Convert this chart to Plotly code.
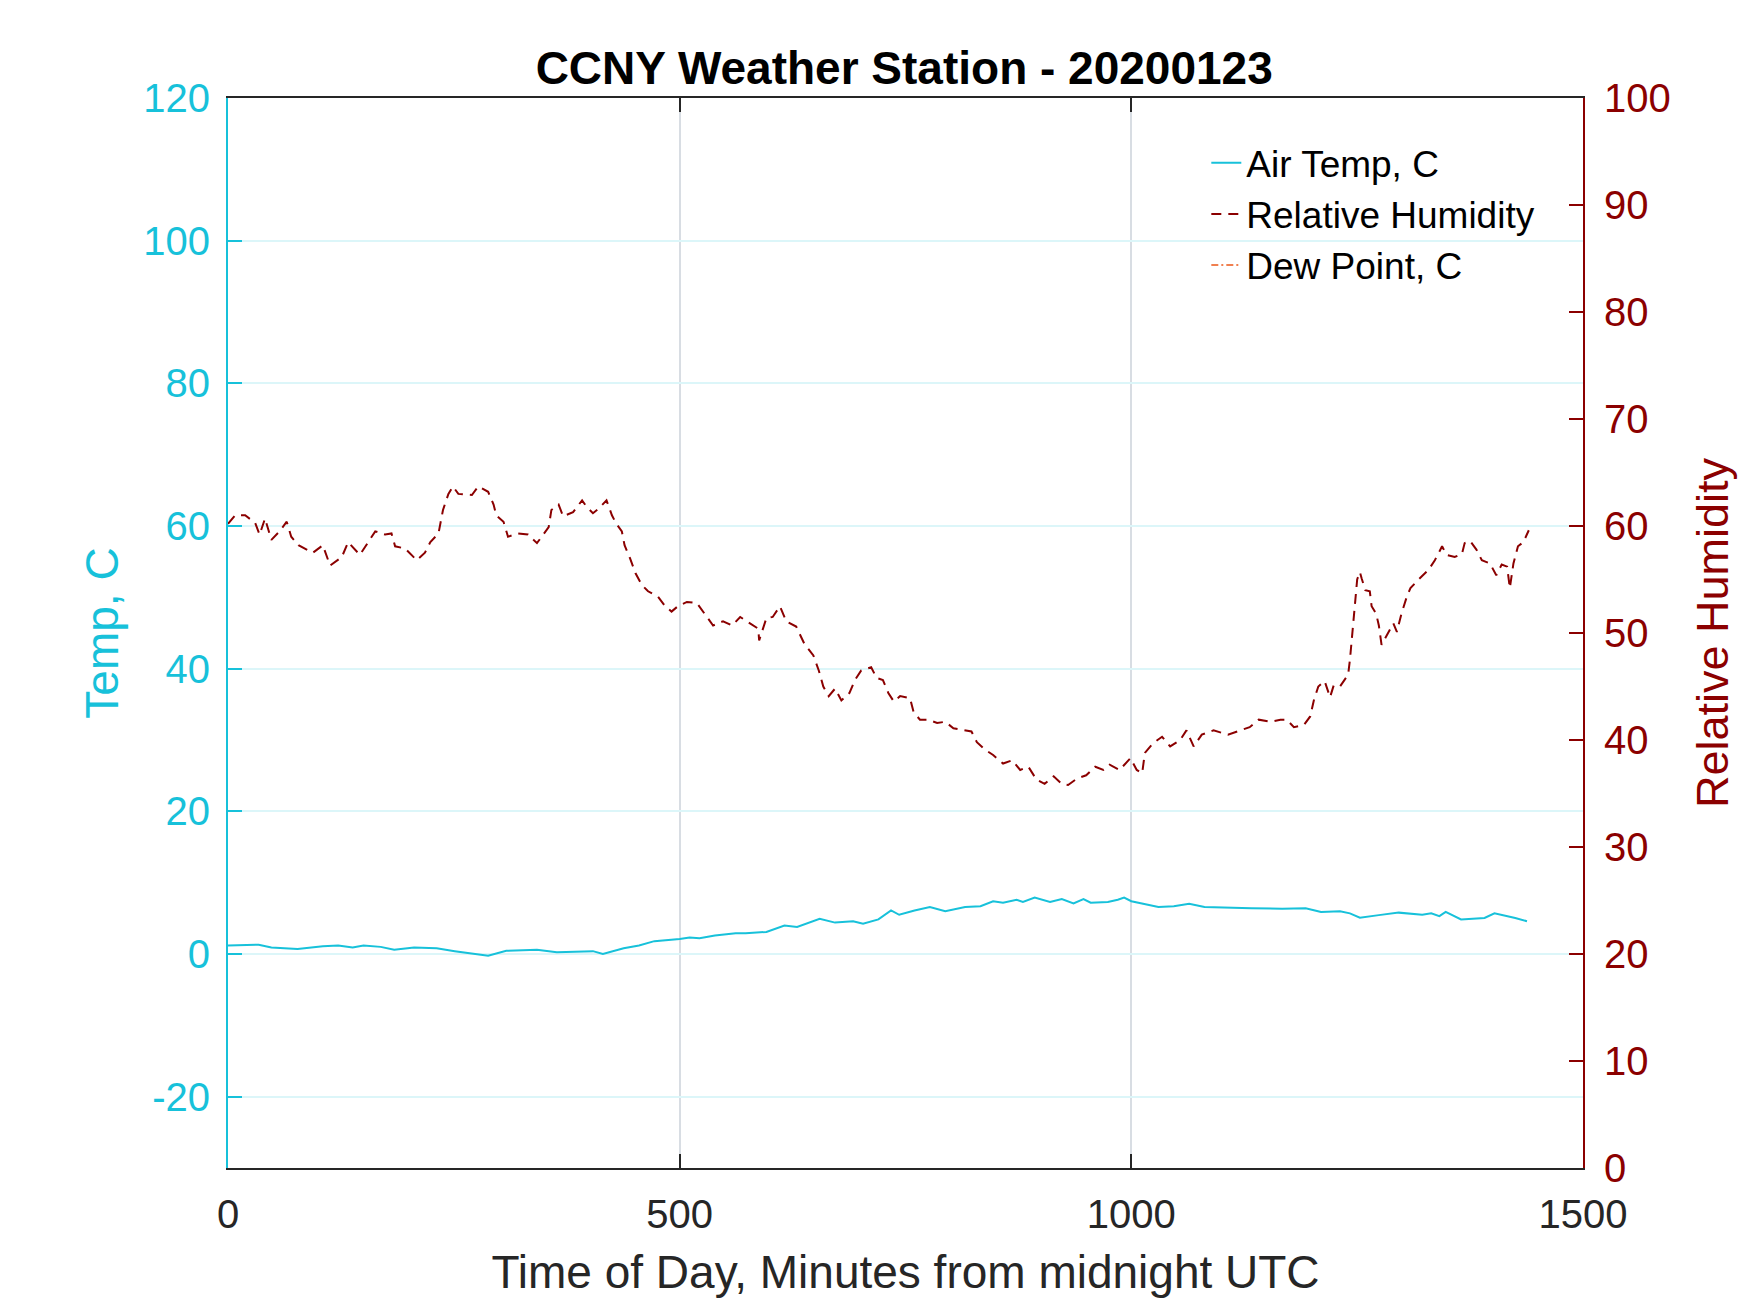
import plotly.graph_objects as go

# air temperature, deg C (minutes from midnight UTC)
temp_minutes = [0, 34, 48, 77, 105, 122, 138, 150, 169, 184, 206, 231, 251, 268, 288, 308,
                342, 364, 387, 404, 415, 438, 455, 472, 500, 511, 522, 539, 562, 573, 596,
                616, 630, 655, 672, 692, 703, 720, 734, 743, 760, 777, 794, 816, 833, 847,
                858, 873, 880, 893, 910, 923, 936, 947, 955, 974, 985, 992, 1000, 1013,
                1030, 1047, 1064, 1081, 1098, 1133, 1167, 1193, 1210, 1231, 1242, 1253,
                1274, 1296, 1322, 1332, 1341, 1348, 1365, 1378, 1391, 1402, 1412, 1425, 1438]
air_temp = [1.2, 1.3, 0.9, 0.7, 1.1, 1.2, 0.9, 1.2, 1.0, 0.6, 0.9, 0.8, 0.4, 0.1, -0.25, 0.45,
            0.6, 0.25, 0.3, 0.4, 0.0, 0.8, 1.2, 1.8, 2.1, 2.3, 2.2, 2.6, 2.9, 2.9, 3.1,
            4.0, 3.8, 4.95, 4.4, 4.6, 4.25, 4.85, 6.1, 5.5, 6.1, 6.6, 6.0, 6.6, 6.7, 7.4,
            7.2, 7.6, 7.3, 7.9, 7.3, 7.7, 7.1, 7.7, 7.2, 7.3, 7.6, 7.9, 7.4, 7.05,
            6.6, 6.7, 7.05, 6.6, 6.5, 6.4, 6.35, 6.4, 5.9, 6.0, 5.7, 5.1,
            5.45, 5.8, 5.5, 5.7, 5.3, 5.9, 4.85, 4.9, 5.05, 5.7, 5.45, 5.05, 4.6]

# relative humidity, %
rh_minutes = [0, 8, 19, 30, 35, 41, 48, 57, 65, 70, 78, 85, 94, 105, 113, 126, 133, 146, 155,
              163, 174, 181, 185, 196, 209, 218, 224, 233, 238, 244, 249, 255, 270, 277, 288,
              294, 297, 305, 310, 321, 332, 342, 349, 355, 358, 366, 371, 382, 392, 397, 404,
              410, 419, 425, 430, 436, 439, 445, 451, 458, 465, 476, 484, 491, 498, 508, 519,
              528, 537, 548, 558, 567, 578, 587, 588, 596, 603, 611, 618, 629, 638, 648, 654,
              659, 665, 672, 679, 688, 694, 701, 712, 718, 725, 731, 737, 744, 755, 759, 766,
              775, 785, 794, 803, 814, 823, 829, 838, 847, 858, 868, 877, 886, 895, 904, 914,
              923, 930, 940, 950, 960, 969, 976, 987, 999, 1006, 1012, 1015, 1024, 1034, 1043,
              1054, 1061, 1069, 1078, 1091, 1107, 1120, 1131, 1141, 1154, 1165, 1172, 1180,
              1191, 1198, 1202, 1207, 1214, 1220, 1224, 1231, 1240, 1242, 1245, 1248, 1250,
              1253, 1255, 1259, 1264, 1266, 1271, 1274, 1277, 1282, 1290, 1294, 1299, 1305,
              1309, 1318, 1329, 1336, 1344, 1349, 1358, 1366, 1369, 1375, 1382, 1388, 1397,
              1404, 1410, 1416, 1419, 1423, 1428, 1434, 1440]
rel_humidity = [60.2, 61.0, 61.0, 60.3, 59.2, 60.7, 58.7, 59.5, 60.4, 59.0, 58.2, 57.9, 57.5,
                58.2, 56.3, 57.1, 58.5, 57.3, 58.5, 59.5, 59.2, 59.3, 58.1, 57.9, 56.8, 57.5,
                58.5, 59.3, 61.5, 63.0, 63.7, 63.0, 62.9, 63.7, 63.2, 62.0, 61.0, 60.4, 59.0,
                59.3, 59.2, 58.4, 59.2, 59.9, 61.5, 62.0, 60.9, 61.3, 62.4, 61.8, 61.2, 61.6,
                62.4, 61.0, 60.2, 59.5, 58.2, 57.0, 55.6, 54.5, 53.9, 53.4, 52.5, 52.0, 52.5,
                52.9, 52.8, 51.8, 50.7, 51.1, 50.7, 51.5, 50.9, 50.4, 49.3, 51.4, 51.5, 52.5,
                51.1, 50.6, 49.0, 47.9, 46.5, 45.0, 44.1, 44.8, 43.7, 44.4, 45.6, 46.5, 46.8,
                45.8, 45.6, 44.4, 43.6, 44.1, 43.9, 42.6, 41.9, 41.9, 41.6, 41.7, 41.1, 40.9,
                40.8, 39.8, 39.1, 38.6, 37.8, 38.1, 37.2, 37.5, 36.3, 35.9, 36.6, 35.9, 35.8,
                36.4, 36.7, 37.5, 37.2, 37.7, 37.2, 38.3, 37.2, 36.9, 38.8, 39.7, 40.3, 39.4,
                40.0, 40.9, 39.4, 40.5, 40.9, 40.5, 40.9, 41.2, 41.9, 41.7, 41.9, 41.9, 41.2,
                41.4, 42.2, 43.7, 45.0, 45.5, 44.0, 45.1, 45.0, 46.1, 47.5, 50.0, 53.1, 55.0,
                55.7, 55.1, 54.0, 53.9, 52.5, 51.8, 50.7, 48.9, 49.7, 50.9, 50.1, 51.8, 53.4,
                54.2, 55.0, 55.9, 56.8, 58.1, 57.3, 57.1, 57.4, 58.4, 58.6, 57.8, 56.8, 56.5,
                55.4, 56.4, 56.2, 54.2, 56.5, 58.1, 58.5, 59.6]

# dew point has no valid readings in this file
dew_minutes = [0, 1440]
dew_point = [None, None]

# tick labels
x_ticks = [0, 500, 1000, 1500]
temp_ticks = [-20, 0, 20, 40, 60, 80, 100, 120]
temp_tick_labels = ['-20', '0', '20', '40', '60', '80', '100', '120']

CYAN = '#17C1DA'
DARKRED = '#8B0000'
AXISGRAY = '#262626'
FONT = 'Liberation Sans, Arial, sans-serif'

fig = go.Figure()

fig.add_trace(go.Scatter(
    x=temp_minutes, y=air_temp, mode='lines',
    line=dict(color=CYAN, width=2),
    name='Air Temp, C'
))
fig.add_trace(go.Scatter(
    x=rh_minutes, y=rel_humidity, mode='lines', yaxis='y2',
    line=dict(color=DARKRED, width=2, dash='10px,7px'),
    name='Relative Humidity'
))
fig.add_trace(go.Scatter(
    x=dew_minutes, y=dew_point, mode='lines',
    line=dict(color='#F08050', width=2, dash='7px,3px,2px,3px'),
    name='Dew Point, C'
))

fig.update_layout(
    width=1750, height=1313,
    margin=dict(l=228, r=167, t=98, b=145),
    paper_bgcolor='white', plot_bgcolor='white',
    font=dict(family=FONT, size=40, color=AXISGRAY),
    title=dict(
        text='<b>CCNY Weather Station - 20200123</b>',
        font=dict(size=46, color='black'),
        x=0.5167, xanchor='center', y=0.948, yanchor='middle'
    ),
    xaxis=dict(
        range=[0, 1500], tickvals=x_ticks,
        showline=True, linecolor=AXISGRAY, linewidth=2, mirror='ticks',
        ticks='inside', ticklen=14, tickwidth=2, tickcolor=AXISGRAY,
        ticklabelstandoff=10,
        showgrid=True, gridcolor='#D8DDE3', gridwidth=2, zeroline=False,
        title=dict(text='Time of Day, Minutes from midnight UTC',
                   font=dict(size=46, color=AXISGRAY), standoff=21)
    ),
    yaxis=dict(
        range=[-30, 120], tickvals=temp_ticks, ticktext=temp_tick_labels,
        showline=True, linecolor=CYAN, linewidth=2,
        ticks='inside', ticklen=14, tickwidth=2, tickcolor=CYAN,
        tickfont=dict(color=CYAN), ticklabelstandoff=8,
        showgrid=True, gridcolor='#DCF6F9', gridwidth=2, zeroline=False,
        title=dict(text='Temp, C', font=dict(size=46, color=CYAN), standoff=10)
    ),
    yaxis2=dict(
        range=[0, 100], dtick=10, overlaying='y', side='right',
        showline=True, linecolor=DARKRED, linewidth=2,
        ticks='inside', ticklen=14, tickwidth=2, tickcolor=DARKRED,
        tickfont=dict(color=DARKRED), ticklabelstandoff=11,
        showgrid=False, zeroline=False,
        title=dict(text='Relative Humidity', font=dict(size=45, color=DARKRED), standoff=27)
    ),
    legend=dict(
        x=0.722, xanchor='left', y=0.968, yanchor='top',
        font=dict(size=37, color='black'),
        bgcolor='rgba(0,0,0,0)', borderwidth=0
    ),
    showlegend=True
)

fig.write_html("out.html", config={'displayModeBar': False},
               post_script="document.body.style.margin='0';")
